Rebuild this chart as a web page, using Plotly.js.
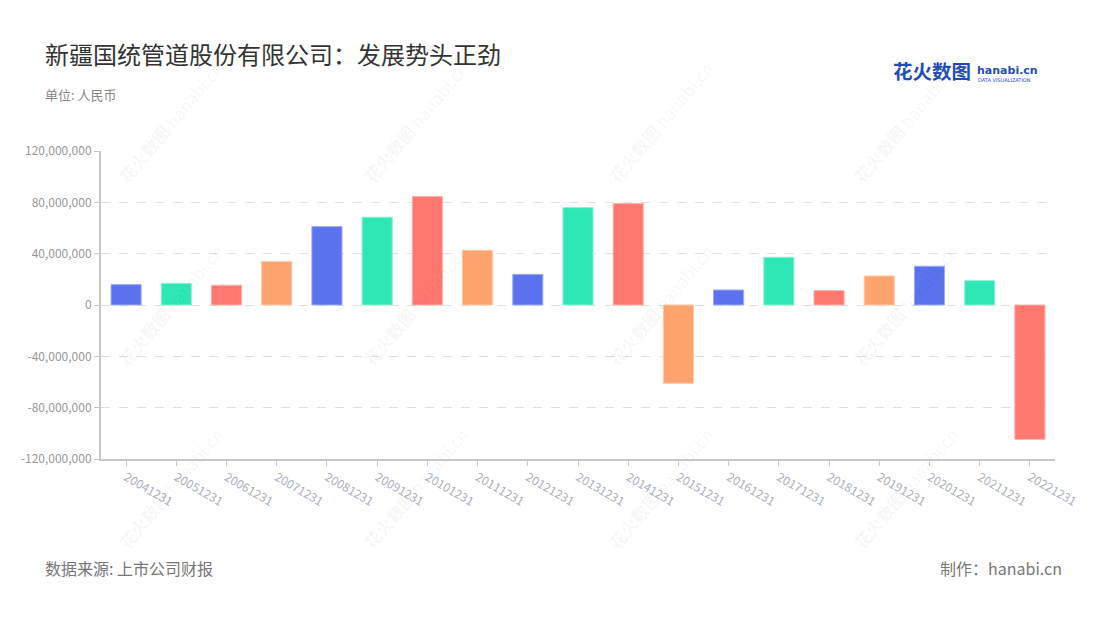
<!DOCTYPE html>
<html>
<head>
<meta charset="utf-8">
<script src="https://cdn.plot.ly/plotly-3.0.1.min.js"></script>
<style>
html,body{margin:0;padding:0;background:#fff;}
#chart{width:1100px;height:620px;}
</style>
</head>
<body>
<div id="chart"></div>
<script>
// ---- data ----
const categories = ["20041231","20051231","20061231","20071231","20081231","20091231","20101231","20111231","20121231","20131231","20141231","20151231","20161231","20171231","20181231","20191231","20201231","20211231","20221231"];
const values = [15900000,16900000,15400000,33800000,61100000,68400000,84500000,42600000,23900000,75900000,79000000,-61000000,11700000,37200000,11200000,22600000,30200000,19000000,-104700000];
const yTickVals = [-120000000,-80000000,-40000000,0,40000000,80000000,120000000];
const yTickText = ["-120,000,000","-80,000,000","-40,000,000","0","40,000,000","80,000,000","120,000,000"];
const titleText = "新疆国统管道股份有限公司：发展势头正劲";
const unitText = "单位: 人民币";
const sourceText = "数据来源: 上市公司财报";
const makerText = "制作：hanabi.cn";

// ---- styles ----
const palette = ["#5a72ee","#2de8b4","#ff7870","#ffa36f"];
const edge = ["#9eacf5","#8ef3d5","#ffb0aa","#ffc8a8"];
const FONT = "'Noto Sans CJK SC','Noto Sans',sans-serif";

const barColors = categories.map((c,i)=>palette[i%4]);
const barEdges = categories.map((c,i)=>edge[i%4]);

const trace = {
  type: "bar",
  x: categories,
  y: values,
  marker: {color: barColors, line: {color: barEdges, width: 1}},
  hoverinfo: "x+y"
};

const LX = -0.0608;
const annotations = [
  {text: titleText, xref:"paper", yref:"paper", x:LX, y:1.0, xanchor:"left", yanchor:"bottom",
   showarrow:false, font:{family:FONT, size:24, color:"#333"}, yshift:78},
  {text: unitText, xref:"paper", yref:"paper", x:LX, y:1.0, xanchor:"left", yanchor:"bottom",
   showarrow:false, font:{family:FONT, size:13, color:"#888"}, yshift:45},
  {text: sourceText, xref:"paper", yref:"paper", x:LX, y:0, xanchor:"left", yanchor:"top",
   showarrow:false, font:{family:FONT, size:16, color:"#777"}, yshift:-95},
  {text: makerText, xref:"paper", yref:"paper", x:1.0, y:0, xanchor:"right", yanchor:"top",
   showarrow:false, font:{family:FONT, size:16, color:"#777"}, yshift:-95, xshift:9},
  // logo
  {text: "<b>花火数图</b>", xref:"paper", yref:"paper", x:0.828, y:1.0, xanchor:"left", yanchor:"bottom",
   showarrow:false, font:{family:FONT, size:19.5, color:"#1f4db5"}, yshift:64},
  {text: "<b>hanabi.cn</b>", xref:"paper", yref:"paper", x:0.916, y:1.0, xanchor:"left", yanchor:"bottom",
   showarrow:false, font:{family:"'DejaVu Sans',sans-serif", size:11, color:"#1f4db5"}, yshift:72},
  {text: "DATA VISUALIZATION", xref:"paper", yref:"paper", x:0.917, y:1.0, xanchor:"left", yanchor:"bottom",
   showarrow:false, font:{family:"'DejaVu Sans',sans-serif", size:5, color:"#1f4db5"}, yshift:66}
];

// watermarks
const wmX = [170, 415, 660, 905];
const wmY = [122, 305, 488];
wmX.forEach(px=>{
  wmY.forEach(py=>{
    annotations.push({
      text:"<b>花火数图</b> hanabi.cn", xref:"paper", yref:"paper",
      x:(px-101)/954, y:1-(py-151)/308, xanchor:"center", yanchor:"middle",
      showarrow:false, textangle:-50,
      font:{family:FONT, size:17, color:"rgba(0,0,0,0.05)"}
    });
  });
});

const layout = {
  width:1100, height:620,
  margin:{l:101, r:45, t:151, b:161},
  paper_bgcolor:"#fff", plot_bgcolor:"rgba(0,0,0,0)",
  font:{family:FONT},
  showlegend:false,
  bargap:0.4,
  xaxis:{
    type:"category",
    tickangle:30,
    tickfont:{family:FONT, size:12, color:"#aab0c2"},
    showline:true, linecolor:"#c8c8c8", linewidth:2,
    ticks:"outside", ticklen:5, tickcolor:"#c8c8c8",
    showgrid:false, zeroline:false
  },
  yaxis:{
    range:[-120000000,120000000],
    tickvals:yTickVals, ticktext:yTickText,
    tickfont:{family:FONT, size:12, color:"#999"},
    showline:true, linecolor:"#c8c8c8", linewidth:2,
    ticks:"outside", ticklen:5, tickcolor:"#c8c8c8",
    showgrid:true, gridcolor:"#e0e0e0", griddash:"dash", gridwidth:1,
    zeroline:false
  },
  annotations:annotations
};

Plotly.newPlot("chart",[trace],layout,{displayModeBar:false, staticPlot:true});
</script>
</body>
</html>
